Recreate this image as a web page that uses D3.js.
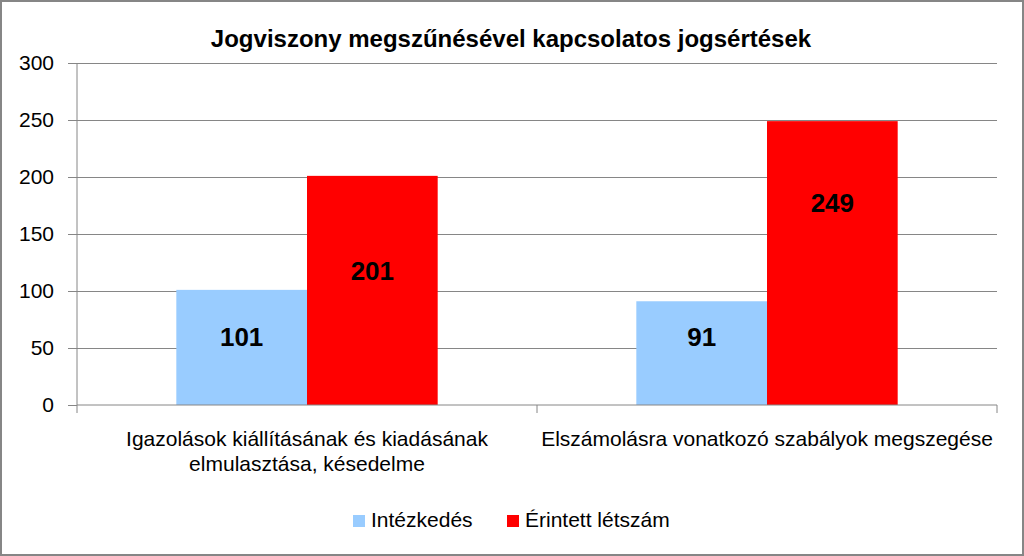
<!DOCTYPE html>
<html><head><meta charset="utf-8">
<script src="https://cdn.jsdelivr.net/npm/d3@7"></script>
<style>
html,body{margin:0;padding:0;background:#fff;}
svg text{font-family:"Liberation Sans",Arial,sans-serif;}
</style></head>
<body>
<svg id="chart" width="1024" height="556"></svg>
<script>
const title = "Jogviszony megszűnésével kapcsolatos jogsértések";
const categories = [
  ["Igazolások kiállításának és kiadásának", "elmulasztása, késedelme"],
  ["Elszámolásra vonatkozó szabályok megszegése"]
];
const seriesNames = ["Intézkedés", "Érintett létszám"];
const intezkedes = [101, 91];
const erintett = [201, 249];
const yTicks = [0, 50, 100, 150, 200, 250, 300];
const colors = ["#99CCFF", "#FF0000"];

const svg = d3.select("#chart");
const W = 1024, H = 556;
const m = {left: 77, right: 27, top: 63, bottom: 151};

svg.append("rect").attr("x",1).attr("y",1).attr("width",W-2).attr("height",H-2)
  .attr("fill","#fff").attr("stroke","#868686").attr("stroke-width",2);

const x0 = d3.scaleBand().domain(d3.range(categories.length)).range([m.left, W-m.right]);
const x1 = d3.scaleBand().domain(d3.range(seriesNames.length)).range([0, x0.bandwidth()]).paddingOuter(0.76).paddingInner(0);
const y = d3.scaleLinear().domain([0,300]).range([H-m.bottom, m.top]);

// label anchor placement inside bars (value units, as placed in the original)
const labelAnchor = [[59.6, 59.6], [117.5, 177.5]];

// gridlines
svg.append("g").selectAll("line").data(yTicks.filter(d=>d>0)).join("line")
  .attr("x1", m.left).attr("x2", W-m.right)
  .attr("y1", d=>y(d)).attr("y2", d=>y(d))
  .attr("stroke","#868686").attr("stroke-width",1).attr("shape-rendering","crispEdges");

// bars
const series = [intezkedes, erintett];
const g = svg.append("g");
categories.forEach((c,i)=>{
  series.forEach((s,j)=>{
    g.append("rect")
      .attr("x", x0(i)+x1(j)).attr("width", x1.bandwidth())
      .attr("y", y(s[i])).attr("height", y(0)-y(s[i]))
      .attr("fill", colors[j]);
  });
});
categories.forEach((c,i)=>{
  series.forEach((s,j)=>{
    g.append("text")
      .attr("x", x0(i)+x1(j)+x1.bandwidth()/2)
      .attr("y", y(labelAnchor[j][i]))
      .attr("dy","0.36em")
      .attr("text-anchor","middle")
      .attr("font-size",26).attr("font-weight","bold").attr("fill","#000")
      .text(s[i]);
  });
});

// y axis
const yAxis = d3.axisLeft(y).tickValues(yTicks).tickSize(9).tickPadding(14);
const ya = svg.append("g").attr("transform",`translate(${m.left},0)`).call(yAxis);
ya.select(".domain").attr("stroke","#868686").attr("d", `M0,${y(300)}V${y(0)}`);
ya.selectAll(".tick line").attr("stroke","#868686");
ya.selectAll(".tick text").attr("font-size",21).attr("fill","#000")
  .style("font-family",'"Liberation Sans",Arial,sans-serif');

// x axis
const xa = svg.append("g").attr("transform",`translate(0,${y(0)})`);
xa.append("line").attr("x1",m.left).attr("x2",W-m.right).attr("y1",0).attr("y2",0).attr("stroke","#868686");
const bounds = [m.left, ...d3.range(1,categories.length).map(i=>x0(i)), W-m.right];
xa.selectAll(".tk").data(bounds).join("line").attr("class","tk")
  .attr("x1",d=>d).attr("x2",d=>d).attr("y1",0).attr("y2",8).attr("stroke","#868686");
categories.forEach((lines,i)=>{
  const t = xa.append("text").attr("text-anchor","middle").attr("font-size",21).attr("fill","#000");
  lines.forEach((l,k)=>{
    t.append("tspan").attr("x", x0(i)+x0.bandwidth()/2).attr("y", 41 + k*25).text(l);
  });
});

// title
svg.append("text").attr("x", 511).attr("y", 47).attr("text-anchor","middle")
  .attr("font-size",24).attr("font-weight","bold").attr("fill","#000").text(title);

// legend
const legendX = [353, 507];
seriesNames.forEach((n,i)=>{
  svg.append("rect").attr("x",legendX[i]).attr("y",515).attr("width",12).attr("height",12).attr("fill",colors[i]);
  svg.append("text").attr("x",legendX[i]+18).attr("y",527).attr("font-size",21).attr("fill","#000").text(n);
});
</script>
</body></html>
